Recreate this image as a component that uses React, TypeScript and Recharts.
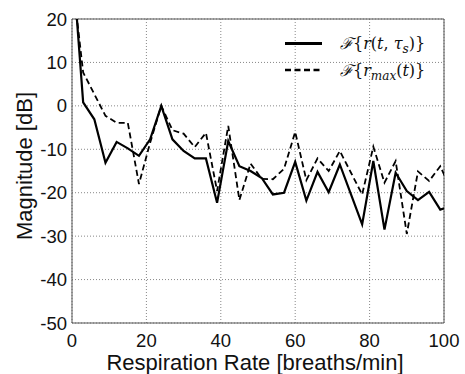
import React from 'react';
import { LineChart, Line, XAxis, YAxis, CartesianGrid, ReferenceArea, Legend } from 'recharts';

const rates = [0, 3, 6, 9, 12, 15, 18, 21, 24, 27, 30, 33, 36, 39, 42, 45, 48, 51, 54, 57, 60, 63, 66, 69, 72, 75, 78, 81, 84, 87, 90, 93, 96, 99, 102];
const magSliding = [35, 0.8, -3.1, -13.1, -8.3, -9.8, -11.5, -7.7, 0, -7.7, -10.4, -12.1, -12.1, -22.3, -8.1, -13.9, -15, -16.6, -20.4, -20, -12.9, -21.8, -15.2, -19.9, -13.5, -20.4, -27.3, -12.7, -28.5, -15.4, -19.6, -21.7, -19.8, -23.9, -23];
const magMax = [30, 7.7, 2.7, -2.3, -3.9, -3.9, -18, -8.5, 0, -5.6, -6.4, -9.5, -6.2, -19.6, -4.6, -21.7, -13.3, -16.8, -16.9, -14.5, -6, -17.1, -12.1, -15, -10.4, -15.4, -20.4, -9.4, -17.7, -12.7, -29.5, -15.1, -17.3, -13.9, -19.6];
const xTicks = [0, 20, 40, 60, 80, 100];
const yTicks = [20, 10, 0, -10, -20, -30, -40, -50];

const data = rates.map((r, i) => ({ rate: r, sliding: magSliding[i], max: magMax[i] }));

const tickFont = { fontFamily: 'Liberation Sans, Arial, sans-serif', fontSize: 18.5, fill: '#111' };
const labelFont = 'Liberation Sans, Arial, sans-serif';
const mathFont = 'DejaVu Serif, serif';

const LegendBox = () => (
  <svg width={180} height={60} style={{ display: 'block', overflow: 'visible' }}>
    <line x1={10} x2={47} y1={18.5} y2={18.5} stroke="#000" strokeWidth={3} />
    <line x1={10} x2={47} y1={45} y2={45} stroke="#000" strokeWidth={2.5} strokeDasharray="6 3.5" />
    <text x={65} y={24} fontFamily={mathFont} fontSize={16} fill="#111">
      <tspan fontStyle="italic">ℱ</tspan>
      <tspan>{'{'}</tspan>
      <tspan fontStyle="italic">r</tspan>
      <tspan>(</tspan>
      <tspan fontStyle="italic">t</tspan>
      <tspan>, </tspan>
      <tspan fontStyle="italic">τ</tspan>
      <tspan fontStyle="italic" fontSize={12} dy={4}>s</tspan>
      <tspan dy={-4}>{')}'}</tspan>
    </text>
    <text x={65} y={51} fontFamily={mathFont} fontSize={16} fill="#111">
      <tspan fontStyle="italic">ℱ</tspan>
      <tspan>{'{'}</tspan>
      <tspan fontStyle="italic">r</tspan>
      <tspan fontStyle="italic" fontSize={12} dy={4}>max</tspan>
      <tspan dy={-4}>(</tspan>
      <tspan fontStyle="italic">t</tspan>
      <tspan>{')}'}</tspan>
    </text>
  </svg>
);

export default function App() {
  return (
    <div style={{ position: 'absolute', left: 0, top: 0, width: 465, height: 374, background: '#fff' }}>
      <LineChart width={465} height={374} data={data} margin={{ top: 19, right: 21, bottom: 0, left: 0 }}>
        <CartesianGrid stroke="#888" strokeDasharray="1 2" verticalValues={xTicks} horizontalValues={yTicks} />
        <XAxis
          dataKey="rate"
          type="number"
          domain={[0, 100]}
          ticks={xTicks}
          allowDataOverflow
          axisLine={false}
          tickLine={false}
          tickSize={0}
          tickMargin={11}
          height={51}
          tick={tickFont}
          interval={0}
          label={{
            content: () => (
              <text x={255} y={370} textAnchor="middle" fontFamily={labelFont} fontSize={22} fill="#111">
                Respiration Rate [breaths/min]
              </text>
            ),
          }}
        />
        <YAxis
          type="number"
          domain={[-50, 20]}
          ticks={yTicks}
          allowDataOverflow
          axisLine={false}
          tickLine={false}
          tickSize={0}
          tickMargin={5}
          width={72}
          tick={tickFont}
          interval={0}
          label={{
            content: () => (
              <text
                x={0}
                y={0}
                transform="translate(32, 166) rotate(-90)"
                textAnchor="middle"
                fontFamily={labelFont}
                fontSize={22}
                fill="#111"
              >
                Magnitude [dB]
              </text>
            ),
          }}
        />
        <ReferenceArea x1={0} x2={100} y1={-50} y2={20} fill="none" stroke="#555" strokeWidth={1} ifOverflow="visible" />
        <Line
          type="linear"
          dataKey="sliding"
          stroke="#000"
          strokeWidth={2.2}
          dot={false}
          isAnimationActive={false}
          name="sliding"
        />
        <Line
          type="linear"
          dataKey="max"
          stroke="#000"
          strokeWidth={1.8}
          strokeDasharray="6 3.5"
          dot={false}
          isAnimationActive={false}
          name="max"
        />
        <Legend
          layout="horizontal"
          verticalAlign="middle"
          align="center"
          content={() => <LegendBox />}
          wrapperStyle={{ position: 'absolute', left: 275, top: 25, width: 180, height: 60 }}
        />
      </LineChart>
    </div>
  );
}
